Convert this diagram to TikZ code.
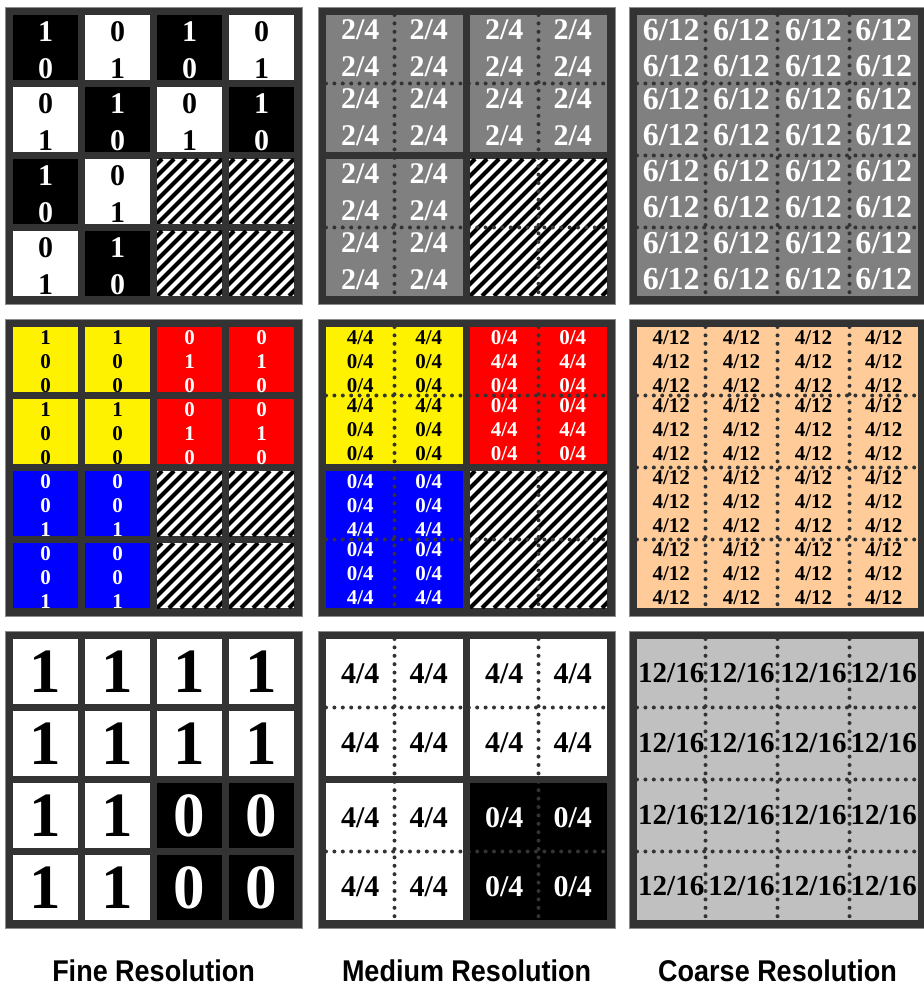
\documentclass[tikz,border=0pt]{standalone}
\usepackage{fontspec}
\setmainfont{Liberation Serif}
\newfontfamily\labelfont[FakeStretch=0.9]{Liberation Sans}

\definecolor{framegray}{RGB}{51,51,51}
\definecolor{midgray}{RGB}{128,128,128}
\definecolor{silvergray}{RGB}{192,192,192}
\definecolor{peach}{RGB}{255,204,153}

\tikzset{
  panel/.style={fill=framegray, draw=black!45, line width=0.4pt},
  dotline/.style={draw=framegray, line width=2pt, line cap=round, dash pattern=on 0pt off 4.2pt},
  bigbit/.style={font=\bfseries\fontsize{31.5}{31.5}\selectfont},
  bit/.style={font=\bfseries\fontsize{15}{15}\selectfont, anchor=base},
  smallbit/.style={font=\bfseries\fontsize{10.5}{10.5}\selectfont, anchor=base},
  caption/.style={font=\labelfont\bfseries\fontsize{15}{15}\selectfont, anchor=base}
}

% striped (missing) cell: corner (#1,#2), side #3
\newcommand\hatchbox[3]{%
  \begin{scope}
    \clip ({#1},{#2}) rectangle ++(#3,#3);
    \fill[white] ({#1},{#2}) rectangle ++(#3,#3);
    \foreach \k in {-144,-132,...,144}
      \draw[line width=2.1pt] ({#1+\k},{#2+#3}) -- ++(#3,-#3);
  \end{scope}}

\begin{document}
\begin{tikzpicture}[x=0.5pt, y=-0.5pt]
  \useasboundingbox[fill=white] (0,0) rectangle (923,988);

  % fine, first row
  \begin{scope}[shift={(5,7)}]
    \fill[panel] (0,0) rectangle (297,297);
    \foreach \i/\j/\bg/\fg/\a/\b in {0/0/black/white/1/0, 1/0/white/black/0/1,
        2/0/black/white/1/0, 3/0/white/black/0/1, 0/1/white/black/0/1,
        1/1/black/white/1/0, 2/1/white/black/0/1, 3/1/black/white/1/0,
        0/2/black/white/1/0, 1/2/white/black/0/1, 0/3/white/black/0/1,
        1/3/black/white/1/0} {
      \fill[\bg] ({8+72*\i},{8+72*\j}) rectangle ++(65,65);
      \node[bit, text=\fg] (fa-\i-\j) at ({40.5+72*\i},{35+72*\j}) {\a};
      \node[bit, text=\fg] (fb-\i-\j) at ({40.5+72*\i},{72+72*\j}) {\b};
    }
    \foreach \i/\j in {2/2, 3/2, 2/3, 3/3}
      \hatchbox{8+72*\i}{8+72*\j}{65};
  \end{scope}

  % fine, second row
  \begin{scope}[shift={(5,319)}]
    \fill[panel] (0,0) rectangle (297,297);
    \foreach \i/\j/\bg/\fg/\a/\b/\c in {0/0/yellow/black/1/0/0, 1/0/yellow/black/1/0/0,
        0/1/yellow/black/1/0/0, 1/1/yellow/black/1/0/0, 2/0/red/white/0/1/0,
        3/0/red/white/0/1/0, 2/1/red/white/0/1/0, 3/1/red/white/0/1/0,
        0/2/blue/white/0/0/1, 1/2/blue/white/0/0/1, 0/3/blue/white/0/0/1,
        1/3/blue/white/0/0/1} {
      \fill[\bg] ({8+72*\i},{8+72*\j}) rectangle ++(65,65);
      \node[smallbit, text=\fg] (fc-\i-\j) at ({40.5+72*\i},{25+72*\j}) {\a};
      \node[smallbit, text=\fg] (fd-\i-\j) at ({40.5+72*\i},{49+72*\j}) {\b};
      \node[smallbit, text=\fg] (fe-\i-\j) at ({40.5+72*\i},{73+72*\j}) {\c};
    }
    \foreach \i/\j in {2/2, 3/2, 2/3, 3/3}
      \hatchbox{8+72*\i}{8+72*\j}{65};
  \end{scope}

  % fine, third row
  \begin{scope}[shift={(5,631)}]
    \fill[panel] (0,0) rectangle (297,297);
    \foreach \i/\j/\bg/\fg/\a in {0/0/white/black/1, 1/0/white/black/1,
        2/0/white/black/1, 3/0/white/black/1, 0/1/white/black/1,
        1/1/white/black/1, 2/1/white/black/1, 3/1/white/black/1,
        0/2/white/black/1, 1/2/white/black/1, 2/2/black/white/0,
        3/2/black/white/0, 0/3/white/black/1, 1/3/white/black/1,
        2/3/black/white/0, 3/3/black/white/0} {
      \fill[\bg] ({8+72*\i},{8+72*\j}) rectangle ++(65,65);
      \node[bigbit, text=\fg] (ff-\i-\j) at ({40.5+72*\i},{40.5+72*\j}) {\a};
    }
  \end{scope}

  % medium, first row
  \begin{scope}[shift={(318,7)}]
    \fill[panel] (0,0) rectangle (297,297);
    \foreach \q/\p in {0/0, 1/0, 0/1} {
      \fill[midgray] ({8+144*\q},{8+144*\p}) rectangle ++(137,137);
      \foreach \s in {0,1}
        \foreach \t in {0,1} {
          \node[bit, text=white] (ma-\q\p\s\t) at ({42.25+68.5*\s+144*\q},{33+68.5*\t+144*\p}) {2/4};
          \node[bit, text=white] (mb-\q\p\s\t) at ({42.25+68.5*\s+144*\q},{70+68.5*\t+144*\p}) {2/4};
        }
    }
    \hatchbox{152}{152}{137};
    \foreach \v in {76.5, 220.5} {
      \draw[dotline] (\v,8) -- (\v,289);
      \draw[dotline] (8,\v) -- (289,\v);
    }
  \end{scope}

  % medium, second row
  \begin{scope}[shift={(318,319)}]
    \fill[panel] (0,0) rectangle (297,297);
    \foreach \q/\p/\bg/\fg/\a/\b/\c in {0/0/yellow/black/4/0/0, 1/0/red/white/0/4/0,
        0/1/blue/white/0/0/4} {
      \fill[\bg] ({8+144*\q},{8+144*\p}) rectangle ++(137,137);
      \foreach \s in {0,1}
        \foreach \t in {0,1} {
          \node[smallbit, text=\fg] (mc-\q\p\s\t) at ({42.25+68.5*\s+144*\q},{25+68.5*\t+144*\p}) {\a/4};
          \node[smallbit, text=\fg] (md-\q\p\s\t) at ({42.25+68.5*\s+144*\q},{49+68.5*\t+144*\p}) {\b/4};
          \node[smallbit, text=\fg] (me-\q\p\s\t) at ({42.25+68.5*\s+144*\q},{73+68.5*\t+144*\p}) {\c/4};
        }
    }
    \hatchbox{152}{152}{137};
    \foreach \v in {76.5, 220.5} {
      \draw[dotline] (\v,8) -- (\v,289);
      \draw[dotline] (8,\v) -- (289,\v);
    }
  \end{scope}

  % medium, third row
  \begin{scope}[shift={(318,631)}]
    \fill[panel] (0,0) rectangle (297,297);
    \foreach \q/\p/\bg/\fg/\a in {0/0/white/black/4, 1/0/white/black/4,
        0/1/white/black/4, 1/1/black/white/0} {
      \fill[\bg] ({8+144*\q},{8+144*\p}) rectangle ++(137,137);
      \foreach \s in {0,1}
        \foreach \t in {0,1}
          \node[bit, anchor=center, text=\fg] (mf-\q\p\s\t) at ({42.25+68.5*\s+144*\q},{43+68.5*\t+144*\p}) {\a/4};
    }
    \foreach \v in {76.5, 220.5} {
      \draw[dotline] (\v,8) -- (\v,289);
      \draw[dotline] (8,\v) -- (289,\v);
    }
  \end{scope}

  % coarse, first row
  \begin{scope}[shift={(629,7)}]
    \fill[panel] (0,0) rectangle (297,297);
    \fill[midgray] (8,8) rectangle (289,289);
    \foreach \i/\cx in {0/42.25, 1/112.5, 2/184.5, 3/254.75}
      \foreach \j/\ty in {0/8, 1/76.5, 2/148.5, 3/220.5} {
        \node[bit, text=white, font=\bfseries\fontsize{16}{16}\selectfont] (ca-\i-\j) at (\cx,{\ty+26}) {6/12};
        \node[bit, text=white, font=\bfseries\fontsize{16}{16}\selectfont] (cb-\i-\j) at (\cx,{\ty+62}) {6/12};
      }
    \foreach \v in {76.5, 148.5, 220.5} {
      \draw[dotline] (\v,8) -- (\v,289);
      \draw[dotline] (8,\v) -- (289,\v);
    }
  \end{scope}

  % coarse, second row
  \begin{scope}[shift={(629,319)}]
    \fill[panel] (0,0) rectangle (297,297);
    \fill[peach] (8,8) rectangle (289,289);
    \foreach \i/\cx in {0/42.25, 1/112.5, 2/184.5, 3/254.75}
      \foreach \j/\ty in {0/8, 1/76.5, 2/148.5, 3/220.5} {
        \node[smallbit] (cc-\i-\j) at (\cx,{\ty+17}) {4/12};
        \node[smallbit] (cd-\i-\j) at (\cx,{\ty+41}) {4/12};
        \node[smallbit] (ce-\i-\j) at (\cx,{\ty+65}) {4/12};
      }
    \foreach \v in {76.5, 148.5, 220.5} {
      \draw[dotline] (\v,8) -- (\v,289);
      \draw[dotline] (8,\v) -- (289,\v);
    }
  \end{scope}

  % coarse, third row
  \begin{scope}[shift={(629,631)}]
    \fill[panel] (0,0) rectangle (297,297);
    \fill[silvergray] (8,8) rectangle (289,289);
    \foreach \i/\cx in {0/42.25, 1/112.5, 2/184.5, 3/254.75}
      \foreach \j/\cy in {0/42.25, 1/112.5, 2/184.5, 3/254.75}
        \node[bit, anchor=center, font=\bfseries\fontsize{14.5}{14.5}\selectfont] (cf-\i-\j) at (\cx,\cy) {12/16};
    \foreach \v in {76.5, 148.5, 220.5} {
      \draw[dotline] (\v,8) -- (\v,289);
      \draw[dotline] (8,\v) -- (289,\v);
    }
  \end{scope}

  \node[caption] (fine) at (153.5,981) {Fine Resolution};
  \node[caption] (medium) at (466.5,981) {Medium Resolution};
  \node[caption] (coarse) at (777.5,981) {Coarse Resolution};
\end{tikzpicture}
\end{document}
